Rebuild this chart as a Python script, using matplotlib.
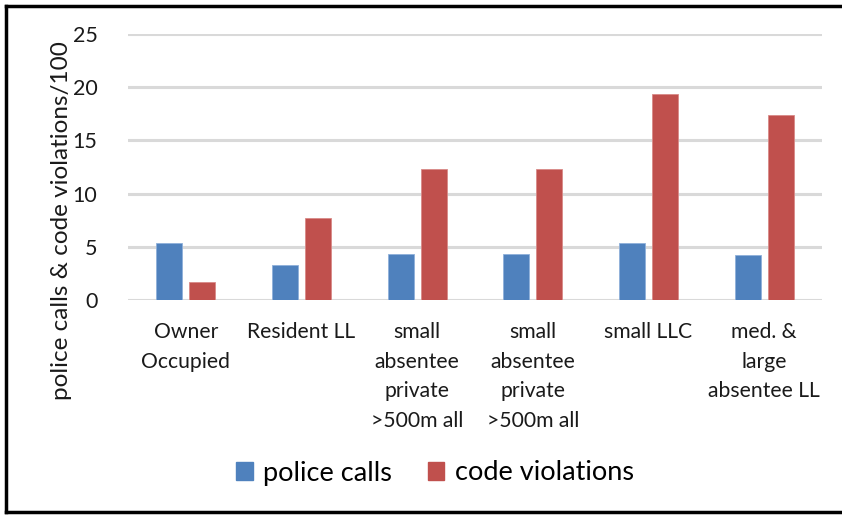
import matplotlib
matplotlib.use("Agg")
import matplotlib.pyplot as plt
import numpy as np
from matplotlib.patches import Rectangle

categories = [
    "Owner\nOccupied",
    "Resident LL",
    "small\nabsentee\nprivate\n>500m all",
    "small\nabsentee\nprivate\n>500m all",
    "small LLC",
    "med. &\nlarge\nabsentee LL",
]
police_calls = [5.4, 3.3, 4.35, 4.35, 5.4, 4.2]
code_violations = [1.65, 7.7, 12.3, 12.3, 19.4, 17.4]
series_names = ["police calls", "code violations"]
y_ticks = [0, 5, 10, 15, 20, 25]

BLUE = "#4F81BD"
RED = "#C0504D"
FONT = "Lato"

plt.rcParams["font.family"] = [FONT, "DejaVu Sans"]

fig = plt.figure(figsize=(8.42, 5.16), dpi=100)
W, H = 842, 516
ax = fig.add_axes([128 / W, 1 - 300 / H, (822 - 128) / W, (300 - 34) / H])

x = np.arange(len(categories))
bw = 0.225
gap = 0.06
off = (bw + gap) / 2
ax.bar(x - off, police_calls, bw, color=BLUE, label=series_names[0], zorder=3,
       edgecolor="#8FB0DA", linewidth=0.6)
ax.bar(x + off, code_violations, bw, color=RED, label=series_names[1], zorder=3,
       edgecolor="#D98A88", linewidth=0.6)

ax.set_xlim(-0.5, len(categories) - 0.5)
ax.set_ylim(0, 25)
ax.set_yticks(y_ticks)
ax.set_yticklabels([str(t) for t in y_ticks], fontsize=15.5, color="#1a1a1a")
ax.yaxis.grid(True, color="#D9D9D9", linewidth=2.2, zorder=0)
ax.set_axisbelow(True)
for s in ["top", "right", "left", "bottom"]:
    ax.spines[s].set_visible(False)
ax.tick_params(axis="y", length=0, pad=22)
ax.tick_params(axis="x", length=0, pad=16)
ax.set_xticks(x)
ax.set_xticklabels(categories, fontsize=15.2, color="#1a1a1a", linespacing=1.6,
                   va="top")

fig.text(62 / W, 1 - 221 / H, "police calls & code violations/100", rotation=90,
         ha="center", va="center", fontsize=17.5, color="#1a1a1a")

handles = [Rectangle((0, 0), 1, 1, color=BLUE), Rectangle((0, 0), 1, 1, color=RED)]
fig.legend(handles, series_names, loc="center", bbox_to_anchor=(435 / W, 1 - 473 / H),
           ncol=2, frameon=False, fontsize=19.5, handlelength=0.6, handleheight=0.6,
           handletextpad=0.4, columnspacing=1.3)

# outer frame
fig.add_artist(plt.Line2D([6 / W, 6 / W], [1 - 6 / H, 1 - 512 / H], color="black",
                          linewidth=2.5, transform=fig.transFigure))
fig.add_artist(plt.Line2D([6 / W, 1.0], [1 - 6 / H, 1 - 6 / H], color="black",
                          linewidth=2.5, transform=fig.transFigure))
fig.add_artist(plt.Line2D([6 / W, 1.0], [1 - 512 / H, 1 - 512 / H], color="black",
                          linewidth=2.5, transform=fig.transFigure))

fig.savefig("out.png", dpi=100, facecolor="white")
